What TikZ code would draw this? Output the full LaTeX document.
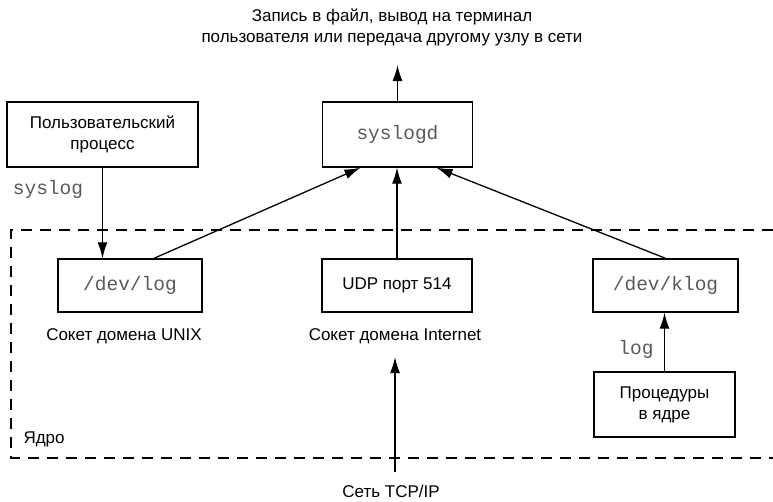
\documentclass[tikz,border=0pt]{standalone}
\usepackage{fontspec}
\setmainfont{Liberation Sans}
\setmonofont{Liberation Mono}
\usepackage{tikz}
\usetikzlibrary{arrows.meta,positioning,calc}

\begin{document}
\begin{tikzpicture}[
  x=1pt, y=-1pt,
  >={Latex[length=16pt,width=10pt]},
  font=\fontsize{17}{21}\selectfont,
  box/.style={draw, line width=1.4pt, align=center, inner sep=0pt},
  mono/.style={font=\fontsize{19.5}{21}\selectfont\ttfamily, text=black!65},
  conn/.style={->, line width=1.3pt},
  kernel/.style={line width=1.1pt, dash pattern=on 11pt off 8pt}
]
\useasboundingbox (0,0) rectangle (773,501);

% Ядро: пунктирная рамка, справа уходит за край
\draw[kernel] (773,230) -- (11,230) -- (11,458) -- (773,458);
\node[anchor=west] (kern) at (20,439) {Ядро};

% Верхний ряд
\node[box, minimum width=191pt, minimum height=65pt] (user) at (102.5,134.5)
  {Пользовательский\\процесс};
\node[box, mono, minimum width=150pt, minimum height=65pt] (syslogd) at (397.5,134.5) {syslogd};

\node[align=center] (dest) at (392,27)
  {Запись в файл, вывод на терминал\\пользователя или передача другому узлу в сети};
\coordinate (out) at (397.5,65);

% Ряд сокетов
\node[box, mono, minimum width=144pt, minimum height=53pt] (devlog) at (130,285.5) {/dev/log};
\node[box, minimum width=150pt, minimum height=53pt] (udp) at (397,285.5) {UDP порт 514};
\node[box, mono, minimum width=145pt, minimum height=53pt] (klog) at (665.5,285.5) {/dev/klog};

\node (unixlbl) at (124,336) {Сокет домена UNIX};
\node (inetlbl) at (395,336) {Сокет домена Internet};

\node[box, minimum width=141pt, minimum height=65pt] (kproc) at (664.5,404.5)
  {Процедуры\\в ядре};

\node[mono] (sysloglbl) at (48,189) {syslog};
\node[mono] (loglbl) at (636,349) {log};

% Сеть
\node (tcp) at (391,491) {Сеть TCP/IP};
\coordinate (tcpbase) at (395,472);
\coordinate (tcptip) at (395,357);

% Стрелки
\draw[conn] (syslogd.north) -- (out);
\draw[conn] (user.south) -- (user.south |- devlog.north);
\draw[conn] ($(devlog.north)+(24,0)$) -- ($(syslogd.south)+(-37,0)$);
\draw[conn] (udp.north) -- (udp.north |- syslogd.south);
\draw[conn] (klog.north) -- ($(syslogd.south)+(39,0)$);
\draw[conn] (kproc.north) -- (kproc.north |- klog.south);
\draw[conn] (tcpbase) -- (tcptip);

\end{tikzpicture}
\end{document}
